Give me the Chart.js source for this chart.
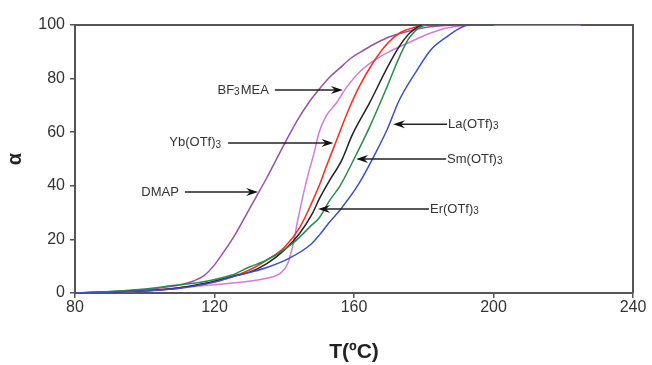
<!DOCTYPE html>
<html>
<head>
<meta charset="utf-8">
<script src="https://cdn.jsdelivr.net/npm/chart.js@4/dist/chart.umd.min.js"></script>
<style>
  html, body { margin: 0; padding: 0; background: #fff; }
  #wrap { width: 652px; height: 365px; }
</style>
</head>
<body>
<div id="wrap"><canvas id="curveChart" width="652" height="365"></canvas></div>
<script>
// DATA ######################################################################

var xTicks = [80, 120, 160, 200, 240];
var yTicks = [0, 20, 40, 60, 80, 100];

var dmapT = [80, 90, 100, 105, 110, 114, 117, 120, 123, 126, 129, 132, 135, 138, 141, 144, 147, 150, 153, 156, 159, 162, 166, 170, 175, 180, 185, 190, 200];
var dmapA = [0, 0.5, 1.2, 2, 3, 4.5, 6.5, 10.5, 16, 22, 29, 36, 43, 50.5, 58, 65, 71, 76, 80.5, 84, 87.5, 90, 93, 95.5, 97.5, 99, 99.7, 100, 100];

var bfT = [87, 95, 105, 115, 125, 135, 139, 141, 142.5, 144, 145.5, 147, 148.5, 150, 152, 155, 158, 162, 166, 170, 175, 182, 187, 195, 225];
var bfA = [0, 0.5, 1.2, 2.5, 3.7, 5.5, 7.5, 11, 18, 28, 37, 45, 52, 60, 66, 71, 77, 83, 87, 90, 93, 97, 99, 100, 100];

var ybT = [80, 90, 100, 110, 118, 125, 130, 135, 140, 144.5, 148, 150, 152, 155, 158, 161.5, 165.5, 169.5, 173, 177, 180, 200];
var ybA = [0, 0.3, 0.8, 2, 3.5, 6, 8.6, 12.3, 17, 24.6, 34, 40, 47, 57, 67, 77, 86, 93, 97, 99, 100, 100];

var erT = [80, 90, 100, 110, 118, 125, 130, 135, 140, 144.5, 148, 150, 153, 156.5, 159.5, 164.5, 169.5, 173, 176, 180, 200];
var erA = [0, 0.3, 0.8, 2, 3.8, 6.2, 7.8, 11, 16, 22.4, 29.5, 35, 42, 49.6, 59, 71, 84, 92, 97, 100, 100];

var smT = [80, 90, 100, 108, 116, 125, 130, 135, 142.5, 148, 150, 153, 156, 160, 164.5, 169.5, 173, 176, 181, 200];
var smA = [0, 0.6, 1.5, 2.8, 4, 6.7, 9.7, 12.3, 18.6, 25.5, 28, 34.5, 40, 50, 62, 77, 88, 95.5, 100, 100];

var laT = [80, 90, 100, 110, 118, 125, 135, 141.5, 147.5, 150, 153, 156, 161.5, 166.5, 169.5, 173, 178, 182, 186.5, 193, 200];
var laA = [0, 0.3, 0.8, 1.8, 3.5, 6, 9.5, 13, 18, 21.5, 26.5, 31, 41, 53, 61, 72, 83, 90.7, 95.5, 100, 100];

// labels with arrows: text parts, where the line leaves the text, where the arrow points, alpha
var notes = [
    { parts: [["BF", 0], ["3", 1], ["MEA", 0]], fromT: 137.3, toT: 156.8, a: 75.7 },
    { parts: [["Yb(OTf)", 0], ["3", 1]], fromT: 123.9, toT: 154.1, a: 56 },
    { parts: [["DMAP", 0]], fromT: 111.5, toT: 132.5, a: 37.7 },
    { parts: [["La(OTf)", 0], ["3", 1]], fromT: 186.7, toT: 171.2, a: 63 },
    { parts: [["Sm(OTf)", 0], ["3", 1]], fromT: 186.4, toT: 160.6, a: 50 },
    { parts: [["Er(OTf)", 0], ["3", 1]], fromT: 181.5, toT: 149.7, a: 31.3 }
];

function toPoints(ts, as) {
    var pts = [];
    for (var i = 0; i < ts.length; i++) {
        pts.push({ x: ts[i], y: as[i] });
    }
    return pts;
}

function series(label, ts, as, color) {
    return {
        label: label,
        data: toPoints(ts, as),
        borderColor: color,
        backgroundColor: color,
        borderWidth: 1.5,
        pointRadius: 0,
        fill: false,
        cubicInterpolationMode: 'monotone'
    };
}

// PLUGINS ###################################################################

var framePlugin = {
    id: 'frame',
    beforeDatasetsDraw: function (chart) {
        var a = chart.chartArea;
        var ctx = chart.ctx;
        ctx.save();
        ctx.strokeStyle = '#555';
        ctx.lineWidth = 2;
        ctx.beginPath();
        ctx.moveTo(a.left, a.top);
        ctx.lineTo(a.right, a.top);
        ctx.lineTo(a.right, a.bottom);
        ctx.stroke();
        ctx.restore();
    }
};

var notePlugin = {
    id: 'notes',
    afterDatasetsDraw: function (chart) {
        var ctx = chart.ctx;
        var xs = chart.scales.x;
        var ys = chart.scales.y;
        ctx.save();
        notes.forEach(function (n) {
            var x0 = xs.getPixelForValue(n.fromT);
            var x1 = xs.getPixelForValue(n.toT);
            var y = ys.getPixelForValue(n.a);
            var dir = x1 > x0 ? 1 : -1;

            // arrow line
            ctx.strokeStyle = '#222';
            ctx.lineWidth = 1.5;
            ctx.beginPath();
            ctx.moveTo(x0, y);
            ctx.lineTo(x1 - dir * 6, y);
            ctx.stroke();
            // arrow head
            ctx.fillStyle = '#111';
            ctx.beginPath();
            ctx.moveTo(x1, y);
            ctx.lineTo(x1 - dir * 12, y - 4);
            ctx.lineTo(x1 - dir * 8, y);
            ctx.lineTo(x1 - dir * 12, y + 4);
            ctx.closePath();
            ctx.fill();

            // text
            var big = '13px "Liberation Sans", Arial, sans-serif';
            var small = '10px "Liberation Sans", Arial, sans-serif';
            var w = 0;
            n.parts.forEach(function (p) {
                ctx.font = p[1] ? small : big;
                w += ctx.measureText(p[0]).width + (p[1] ? 1 : 0);
            });
            var tx = dir > 0 ? x0 - w - 6 : x0 + 1;
            ctx.fillStyle = '#333';
            ctx.textBaseline = 'middle';
            ctx.textAlign = 'left';
            n.parts.forEach(function (p) {
                ctx.font = p[1] ? small : big;
                ctx.fillText(p[0], tx, y + (p[1] ? 2 : 0));
                tx += ctx.measureText(p[0]).width + (p[1] ? 1 : 0);
            });
        });
        ctx.restore();
    }
};

// CHART #####################################################################

var tickFont = { family: '"Liberation Sans", Arial, sans-serif', size: 16 };
var titleFont = { family: '"Liberation Sans", Arial, sans-serif', size: 21, weight: 'bold' };

var curveChart = new Chart(document.getElementById('curveChart'), {
    type: 'line',
    data: {
        datasets: [
            series('La(OTf)3', laT, laA, '#3a4fd0'),
            series('Sm(OTf)3', smT, smA, '#2a8a4a'),
            series('Er(OTf)3', erT, erA, '#222222'),
            series('Yb(OTf)3', ybT, ybA, '#ff2a1a'),
            series('DMAP', dmapT, dmapA, '#9a50a8'),
            series('BF3MEA', bfT, bfA, '#d77ad8')
        ]
    },
    options: {
        responsive: false,
        animation: false,
        layout: { padding: { top: 25, right: 19, left: 0, bottom: 0 } },
        plugins: {
            legend: { display: false },
            tooltip: { enabled: false }
        },
        scales: {
            x: {
                type: 'linear',
                min: 80,
                max: 240,
                afterBuildTicks: function (scale) {
                    scale.ticks = xTicks.map(function (v) { return { value: v }; });
                },
                afterFit: function (scale) { scale.height = 72; },
                ticks: { color: '#333', font: tickFont, padding: 0, maxRotation: 0 },
                grid: { drawOnChartArea: false, tickLength: 5, color: '#555', lineWidth: 1.5 },
                border: { color: '#555', width: 2 },
                title: {
                    display: true,
                    text: 'T(ºC)',
                    color: '#222',
                    font: titleFont,
                    padding: { top: 0, bottom: 0 }
                }
            },
            y: {
                min: 0,
                max: 100,
                afterBuildTicks: function (scale) {
                    scale.ticks = yTicks.map(function (v) { return { value: v }; });
                },
                afterFit: function (scale) { scale.width = 75; },
                ticks: { color: '#333', font: tickFont, padding: 5 },
                grid: { drawOnChartArea: false, tickLength: 5, color: '#555', lineWidth: 1.5 },
                border: { color: '#555', width: 2 },
                title: {
                    display: true,
                    text: 'α',
                    color: '#222',
                    font: { family: '"Liberation Sans", Arial, sans-serif', size: 20, weight: 'bold' },
                    padding: { top: 3, bottom: 0 }
                }
            }
        }
    },
    plugins: [framePlugin, notePlugin]
});
</script>
</body>
</html>
